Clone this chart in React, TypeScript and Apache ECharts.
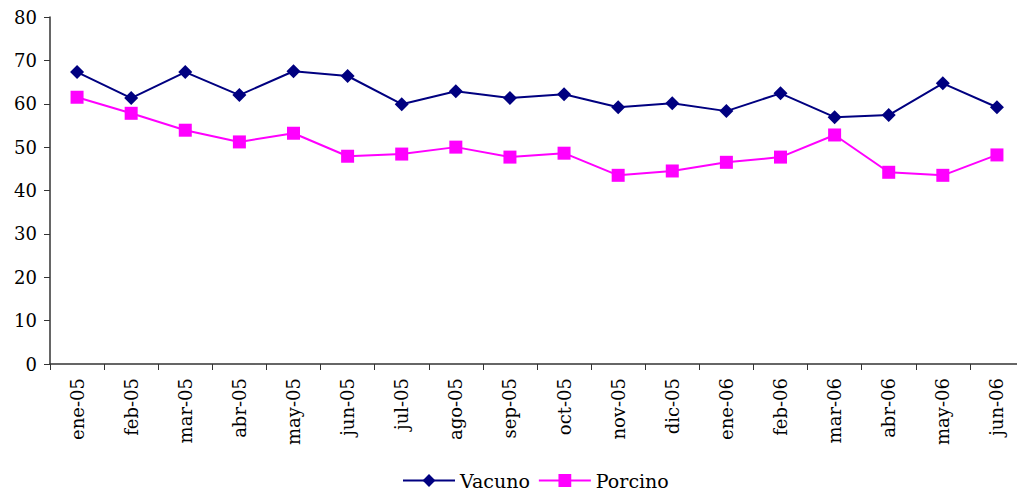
import React, { useEffect, useRef } from "react";
import * as echarts from "echarts";

const categories = ["ene-05","feb-05","mar-05","abr-05","may-05","jun-05","jul-05","ago-05","sep-05","oct-05","nov-05","dic-05","ene-06","feb-06","mar-06","abr-06","may-06","jun-06"];
const vacuno = [67.3,61.3,67.3,62.0,67.5,66.4,59.9,62.9,61.3,62.2,59.2,60.1,58.3,62.4,56.9,57.4,64.7,59.2];
const porcino = [61.5,57.8,53.9,51.2,53.2,47.9,48.4,50.0,47.7,48.6,43.5,44.5,46.5,47.7,52.8,44.2,43.5,48.2];

const FONT = "DejaVu Serif";

export default function App() {
  const ref = useRef<HTMLDivElement>(null);
  useEffect(() => {
    const chart = echarts.init(ref.current!, null, { renderer: "svg" });
    chart.setOption({
      animation: false,
      textStyle: { fontFamily: FONT, color: "#000" },
      grid: { left: 50, width: 974, top: 17, height: 347, containLabel: false, outerBoundsMode: "none" },
      legend: {
        bottom: 0,
        left: 397,
        itemWidth: 52,
        itemHeight: 16,
        itemGap: 8,
        textStyle: { fontFamily: FONT, fontSize: 19, color: "#000" },
        data: ["Vacuno", "Porcino"],
      },
      xAxis: {
        type: "category",
        data: categories,
        boundaryGap: true,
        axisLine: { lineStyle: { color: "#333", width: 1.5 } },
        axisTick: { show: true, length: 6, lineStyle: { color: "#333" } },
        axisLabel: { rotate: 90, fontSize: 18, color: "#000", fontFamily: FONT, margin: 14, interval: 0 },
      },
      yAxis: {
        type: "value",
        min: 0,
        max: 80,
        interval: 10,
        splitLine: { show: false },
        axisLine: { show: true, lineStyle: { color: "#333", width: 1.5 } },
        axisTick: { show: true, length: 6, lineStyle: { color: "#333" } },
        axisLabel: { fontSize: 18, color: "#000", fontFamily: FONT, margin: 13 },
      },
      series: [
        {
          name: "Vacuno",
          type: "line",
          data: vacuno,
          symbol: "diamond",
          symbolSize: 14,
          lineStyle: { color: "#000080", width: 2 },
          itemStyle: { color: "#000080" },
        },
        {
          name: "Porcino",
          type: "line",
          data: porcino,
          symbol: "rect",
          symbolSize: 13,
          lineStyle: { color: "#FF00FF", width: 2 },
          itemStyle: { color: "#FF00FF" },
        },
      ],
    });
    return () => chart.dispose();
  }, []);
  return <div ref={ref} style={{ position: "absolute", left: 0, top: 0, width: 1017, height: 495 }} />;
}
